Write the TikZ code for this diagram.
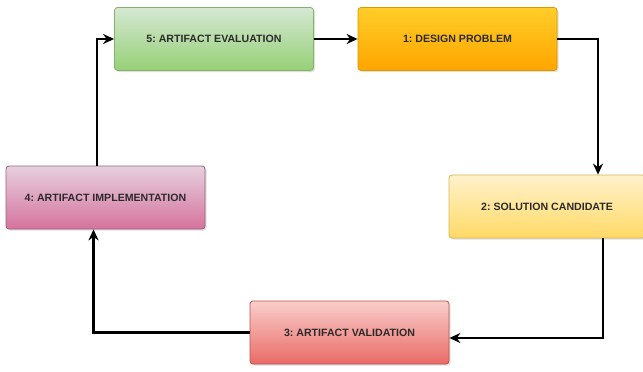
\documentclass[tikz,border=0pt]{standalone}
\usepackage{fontspec}
\setsansfont{Liberation Sans}
\usetikzlibrary{arrows.meta,shadows}

\definecolor{txtgray}{HTML}{2B2B2B}
\definecolor{evaltop}{HTML}{D5E8D4}
\definecolor{evalbot}{HTML}{97D077}
\definecolor{evalline}{HTML}{82B366}
\definecolor{probtop}{HTML}{FFCD28}
\definecolor{probbot}{HTML}{FFA500}
\definecolor{probline}{HTML}{D79B00}
\definecolor{soltop}{HTML}{FFF2CC}
\definecolor{solbot}{HTML}{FFD966}
\definecolor{solline}{HTML}{D6B656}
\definecolor{valtop}{HTML}{F8CECC}
\definecolor{valbot}{HTML}{EA6B66}
\definecolor{valline}{HTML}{B85450}
\definecolor{impltop}{HTML}{E6D0DE}
\definecolor{implbot}{HTML}{D5739D}
\definecolor{implline}{HTML}{996185}

\tikzset{
    stage/.style={draw, line width=0.8pt, rounded corners=3pt,
        minimum width=199pt, minimum height=63pt, inner sep=0pt,
        drop shadow={shadow xshift=1.5pt, shadow yshift=-1.5pt, opacity=0.25},
        font=\sffamily\bfseries\fontsize{10.6}{12}\selectfont\frenchspacing, text=txtgray},
    flow/.style={-{Stealth[length=11pt,width=10pt]}, line width=2.2pt}
}

\begin{document}
\begin{tikzpicture}[x=1pt,y=-1pt]
    \useasboundingbox (0,0) rectangle (643,372);

    \node[stage, draw=evalline, top color=evaltop, bottom color=evalbot] (eval) at (214,39) {5: ARTIFACT EVALUATION};
    \node[stage, draw=probline, top color=probtop, bottom color=probbot] (prob) at (457.5,39) {1: DESIGN PROBLEM};
    \node[stage, draw=solline, top color=soltop, bottom color=solbot, minimum width=196pt] (sol) at (547,206.5) {2: SOLUTION CANDIDATE};
    \node[stage, draw=valline, top color=valtop, bottom color=valbot] (val) at (349.5,332.5) {3: ARTIFACT VALIDATION};
    \node[stage, draw=implline, top color=impltop, bottom color=implbot] (impl) at (105.5,197.5) {4: ARTIFACT IMPLEMENTATION};

    \draw[flow] (eval) -- (prob);
    \draw[flow] (prob.east) -| ([xshift=51pt]sol.north);
    \draw[flow] ([xshift=56pt]sol.south) |- ([yshift=-5.5pt]val.east);
    \draw[flow] (val.west) -| ([xshift=-12pt]impl.south);
    \draw[flow] ([xshift=-8.5pt]impl.north) |- (eval.west);

\end{tikzpicture}
\end{document}
